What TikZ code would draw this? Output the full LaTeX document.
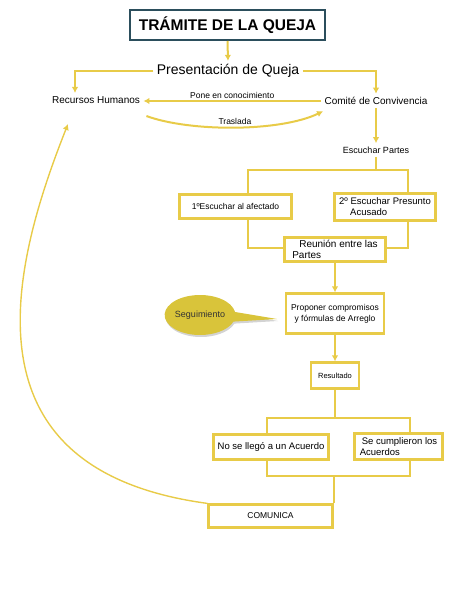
\documentclass[tikz,border=0pt]{standalone}
\usepackage{fontspec}
\setmainfont{Liberation Sans}
\usetikzlibrary{calc,shapes.callouts,shadows,arrows.meta}
\definecolor{amarillo}{HTML}{E8CB48}
\definecolor{pizarra}{HTML}{2B4E5C}
\definecolor{dorado}{HTML}{D9C43A}
\tikzset{
  caja/.style={draw=amarillo,line width=2.2pt,fill=white,inner sep=2pt},
  linea/.style={draw=amarillo,line width=2pt},
  flecha/.style={linea,-{Latex[length=6pt,width=6.5pt]}},
}
\begin{document}
\begin{tikzpicture}[x=1pt,y=-1pt]
  \useasboundingbox (0,0) rectangle (453,596);

  \node[draw=pizarra,line width=2pt,minimum width=195pt,minimum height=30pt,font=\bfseries\fontsize{15.5}{18}\selectfont] (titulo) at (227.5,25) {TRÁMITE DE LA QUEJA};
  \node[font=\fontsize{14}{16}\selectfont] (pres) at (228,71) {Presentación de Queja};
  \node[font=\fontsize{10}{12}\selectfont] (rh) at (96,100) {Recursos Humanos};
  \node[font=\fontsize{10}{12}\selectfont] (comite) at (376,101) {Comité de Convivencia};
  \node[font=\fontsize{9}{11}\selectfont] (escuchar) at (376,150) {Escuchar Partes};

  \node[caja,minimum width=112pt,minimum height=24pt,font=\fontsize{8.5}{10}\selectfont] (e1) at (235.5,206.5) {1ºEscuchar al afectado};
  \node[caja,minimum width=101pt,minimum height=27pt,align=left,font=\fontsize{9.5}{10.8}\selectfont] (e2) at (385,207) {2º Escuchar Presunto\\\hspace*{11pt}Acusado};

  % ramas de escuchar partes
  \coordinate (b1l) at (248,170);
  \coordinate (b1r) at (408,170);
  \coordinate (j1l) at (248,248);
  \coordinate (j1r) at (408,248);
  \draw[linea] (escuchar.south) -- (escuchar.south |- b1l);
  \draw[linea] (e1.north -| b1l) -- (b1l) -- (b1r) -- (e2.north -| b1r);
  \draw[linea] (e1.south -| j1l) -- (j1l) -- (j1r) -- (e2.south -| j1r);

  \node[caja,minimum width=101pt,minimum height=24pt,align=left,font=\fontsize{10}{11}\selectfont] (reunion) at (335,249.5) {\hspace*{7pt}Reunión entre las\\Partes};
  \node[caja,minimum width=98pt,minimum height=40pt,align=center,font=\fontsize{8.5}{11.3}\selectfont] (proponer) at (335,313.5) {Proponer compromisos\\y fórmulas de Arreglo};
  \node[ellipse callout,fill=dorado,drop shadow={opacity=0.35,shadow xshift=1pt,shadow yshift=-2pt},
        minimum width=68pt,minimum height=40pt,inner sep=0pt,callout pointer arc=28,
        callout absolute pointer={(277,319)},text=black!80,font=\fontsize{9}{11}\selectfont] (seguimiento) at (200,315) {Seguimiento};
  \node[caja,minimum width=48pt,minimum height=26pt,font=\fontsize{7.5}{9}\selectfont] (resultado) at (335,375.5) {Resultado};

  \node[caja,minimum width=115pt,minimum height=25pt,font=\fontsize{9.5}{11}\selectfont] (nollego) at (271,447) {No se llegó a un Acuerdo};
  \node[caja,minimum width=88pt,minimum height=26pt,align=left,font=\fontsize{9.5}{11}\selectfont] (cumplieron) at (398.5,446.5) {\hspace*{2pt}Se cumplieron los\\Acuerdos};

  % ramas del resultado
  \coordinate (b2l) at (267,418);
  \coordinate (b2r) at (410,418);
  \coordinate (j2l) at (267,476);
  \coordinate (j2r) at (410,476);
  \draw[linea] (resultado.south) -- (resultado.south |- b2l);
  \draw[linea] (nollego.north -| b2l) -- (b2l) -- (b2r) -- (cumplieron.north -| b2r);
  \draw[linea] (nollego.south -| j2l) -- (j2l) -- (j2r) -- (cumplieron.south -| j2r);

  \node[caja,minimum width=124pt,minimum height=23pt,font=\fontsize{8.5}{10}\selectfont] (comunica) at (270.5,516) {COMUNICA};
  \draw[linea] (comunica.north east |- j2l) -- (comunica.north east);

  % flechas
  \draw[flecha] (titulo.south) -- (pres.north);
  \draw[flecha] (pres.west) -| ([xshift=-21pt]rh.north);
  \draw[flecha] (pres.east) -| (comite.north);
  \draw[flecha] (comite.west) -- node[above,inner sep=1.5pt,font=\fontsize{8.5}{10}\selectfont] (pone) {Pone en conocimiento} (rh.east |- comite.west);
  \draw[flecha] ([shift={(3,9)}]rh.south east) .. controls (190,132) and (280,132) .. ([shift={(2,3)}]comite.south west)
    node[pos=0.5,above,inner sep=1.5pt,font=\fontsize{8.5}{10}\selectfont] (traslada) {Traslada};
  \draw[flecha] (comite.south) -- (escuchar.north);
  \draw[flecha] (reunion.south) -- (proponer.north);
  \draw[flecha] (proponer.south) -- (resultado.north);
  \draw[flecha,line width=1.4pt] (comunica.north west) .. controls (-40,470) and (10,270) .. ([shift={(-28,17)}]rh.south);

\end{tikzpicture}
\end{document}
